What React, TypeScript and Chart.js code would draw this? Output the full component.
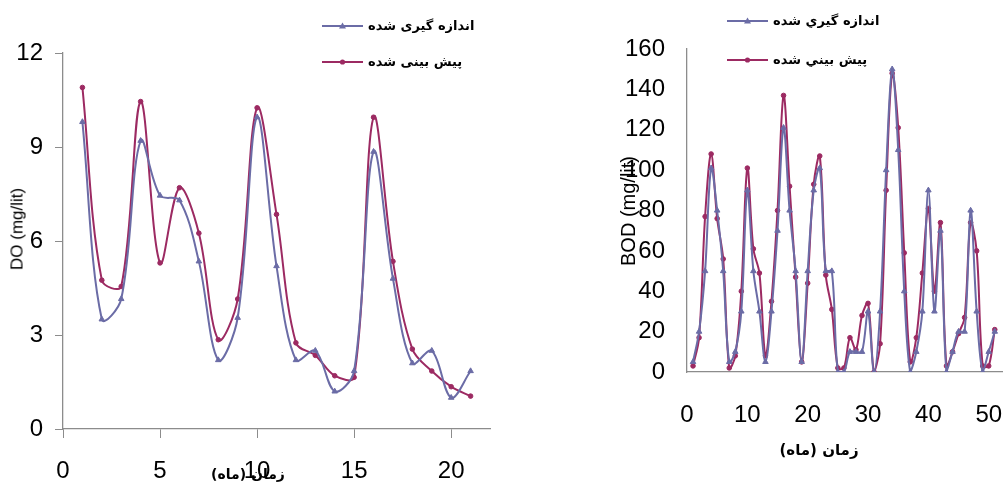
import React, { useEffect, useRef } from "react";
import { Chart, registerables } from "chart.js";

Chart.register(...registerables);

// ---------- DATA ----------
const doMonths = [1, 2, 3, 4, 5, 6, 7, 8, 9, 10, 11, 12, 13, 14, 15, 16, 17, 18, 19, 20, 21];
const doMeasured = [9.8, 3.5, 4.15, 9.2, 7.45, 7.3, 5.35, 2.2, 3.55, 9.95, 5.2, 2.2, 2.5, 1.2, 1.85, 8.85, 4.8, 2.1, 2.5, 1.0, 1.85];
const doPredicted = [10.9, 4.75, 4.55, 10.45, 5.3, 7.7, 6.25, 2.85, 4.15, 10.25, 6.85, 2.75, 2.35, 1.7, 1.65, 9.95, 5.35, 2.55, 1.85, 1.35, 1.05];

const bodMonths = [
  1, 2, 3, 4, 5, 6, 7, 8, 9, 10, 11, 12, 13, 14, 15, 16, 17, 18, 19, 20, 21, 22, 23, 24, 25,
  26, 27, 28, 29, 30, 31, 32, 33, 34, 35, 36, 37, 38, 39, 40, 41, 42, 43, 44, 45, 46, 47, 48, 49, 50, 51,
];
const bodMeasured = [
  5, 20, 50, 101, 80, 50, 5, 10, 30, 90, 50, 30, 5, 30, 70, 121, 80, 50, 5, 50, 90, 101, 50, 50, 0,
  0, 10, 10, 10, 30, 0, 30, 100, 150, 110, 40, 0, 10, 30, 90, 30, 70, 0, 10, 20, 20, 80, 30, 0, 10, 20,
];
const bodPredicted = [
  3, 17, 77, 108, 76, 56, 2, 8, 40, 101, 61, 49, 8, 35, 80, 137, 92, 47, 5, 44, 93, 107, 48, 31, 2,
  2, 17, 11, 28, 34, 0, 14, 90, 148, 121, 59, 5, 17, 49, 81, 40, 74, 3, 10, 19, 27, 74, 60, 3, 3, 21,
];

const doXTicks = [0, 5, 10, 15, 20];
const doYTicks = [0, 3, 6, 9, 12];
const bodXTicks = [0, 10, 20, 30, 40, 50];
const bodYTicks = [0, 20, 40, 60, 80, 100, 120, 140, 160];

const labelsLeft = { measured: "اندازه گیری شده", predicted: "پیش بینی شده", x: "زمان (ماه)", y: "DO (mg/lit)" };
const labelsRight = { measured: "اندازه گيري شده", predicted: "پيش بيني شده", x: "زمان (ماه)", y: "BOD (mg/lit)" };

const BLUE = "#6b6ca6";
const RED = "#9c2a62";
const AXIS = "#8c8c8c";
const NUMFONT = "'Liberation Sans', Arial, sans-serif";
const ARFONT = "'DejaVu Sans', sans-serif";

function toPoints(xs: number[], ys: number[]) {
  return xs.map((x, i) => ({ x, y: ys[i] }));
}

function makeDatasets(xs: number[], m: number[], p: number[], ml: string, pl: string) {
  return [
    {
      label: ml,
      data: toPoints(xs, m),
      borderColor: BLUE,
      backgroundColor: BLUE,
      borderWidth: 2,
      pointStyle: "triangle" as const,
      pointRadius: 3.2,
      pointBorderWidth: 1,
      tension: 0.35,
    },
    {
      label: pl,
      data: toPoints(xs, p),
      borderColor: RED,
      backgroundColor: RED,
      borderWidth: 2,
      pointStyle: "circle" as const,
      pointRadius: 2.3,
      pointBorderWidth: 1,
      tension: 0.35,
    },
  ];
}

function LineChart(props: {
  left: number;
  width: number;
  xs: number[];
  m: number[];
  p: number[];
  ml: string;
  pl: string;
  xMax: number;
  yMax: number;
  xTicks: number[];
  yTicks: number[];
  yAxisWidth: number;
  xAxisHeight: number;
  padTop: number;
  padRight: number;
  showTicks: boolean;
  xTickLen: number;
  yTickLen: number;
  xPad: number;
  yPad: number;
}) {
  const ref = useRef<HTMLCanvasElement | null>(null);
  useEffect(() => {
    if (!ref.current) return;
    const tickColor = props.showTicks ? AXIS : "rgba(0,0,0,0)";
    const chart = new Chart(ref.current, {
      type: "line",
      data: { datasets: makeDatasets(props.xs, props.m, props.p, props.ml, props.pl) as any },
      options: {
        animation: false,
        responsive: false,
        maintainAspectRatio: false,
        layout: { padding: { top: props.padTop, right: props.padRight, left: 0, bottom: 0 } },
        plugins: { legend: { display: false }, tooltip: { enabled: false }, title: { display: false } },
        scales: {
          x: {
            type: "linear",
            min: 0,
            max: props.xMax,
            afterBuildTicks: (s: any) => {
              s.ticks = props.xTicks.map((v) => ({ value: v }));
            },
            afterFit: (s: any) => {
              s.height = props.xAxisHeight;
            },
            ticks: {
              font: { size: 24, family: NUMFONT },
              color: "#000",
              padding: props.xPad,
              maxRotation: 0,
              autoSkip: false,
            },
            grid: {
              drawOnChartArea: false,
              drawTicks: true,
              tickLength: props.xTickLen,
              tickColor: tickColor,
              color: AXIS,
            },
            border: { color: AXIS, width: 1.3 },
          },
          y: {
            type: "linear",
            min: 0,
            max: props.yMax,
            afterBuildTicks: (s: any) => {
              s.ticks = props.yTicks.map((v) => ({ value: v }));
            },
            afterFit: (s: any) => {
              s.width = props.yAxisWidth;
            },
            ticks: {
              font: { size: 24, family: NUMFONT },
              color: "#000",
              padding: props.yPad,
              autoSkip: false,
            },
            grid: {
              drawOnChartArea: false,
              drawTicks: true,
              tickLength: props.yTickLen,
              tickColor: tickColor,
              color: AXIS,
            },
            border: { color: AXIS, width: 1.3 },
          },
        },
      },
    });
    return () => chart.destroy();
  }, []);
  return (
    <canvas
      ref={ref}
      width={props.width}
      height={487}
      style={{ position: "absolute", left: props.left, top: 0, width: props.width, height: 487 }}
    />
  );
}

function LegendItem(props: { x: number; y: number; text: string; color: string; marker: "tri" | "dot"; size: number }) {
  return (
    <div style={{ position: "absolute", left: props.x, top: props.y - 6, height: 12, display: "flex", alignItems: "center" }}>
      <svg width={41} height={12} style={{ display: "block" }}>
        <line x1={0} y1={6} x2={41} y2={6} stroke={props.color} strokeWidth={2} />
        {props.marker === "tri" ? (
          <polygon points="20.5,2.5 24,8.5 17,8.5" fill={props.color} />
        ) : (
          <circle cx={20.5} cy={6} r={2.6} fill={props.color} />
        )}
      </svg>
      <span
        dir="rtl"
        style={{
          marginLeft: 5,
          fontFamily: ARFONT,
          fontWeight: "bold",
          fontSize: props.size,
          color: "#000",
          whiteSpace: "nowrap",
          lineHeight: "12px",
        }}
      >
        {props.text}
      </span>
    </div>
  );
}

function Text(props: { cx: number; cy: number; text: string; size: number; bold?: boolean; rotate?: boolean; family: string; rtl?: boolean }) {
  return (
    <div
      dir={props.rtl ? "rtl" : "ltr"}
      style={{
        position: "absolute",
        left: props.cx,
        top: props.cy,
        transform: `translate(-50%, -50%)${props.rotate ? " rotate(-90deg)" : ""}`,
        fontFamily: props.family,
        fontSize: props.size,
        fontWeight: props.bold ? "bold" : "normal",
        whiteSpace: "nowrap",
        color: "#000",
        lineHeight: 1,
      }}
    >
      {props.text}
    </div>
  );
}

export default function App() {
  return (
    <div
      style={{
        position: "fixed",
        left: 0,
        top: 0,
        width: 1007,
        height: 487,
        background: "#fff",
        overflow: "hidden",
      }}
    >
      <LineChart
        left={0}
        width={500}
        xs={doMonths}
        m={doMeasured}
        p={doPredicted}
        ml={labelsLeft.measured}
        pl={labelsLeft.predicted}
        xMax={22}
        yMax={12}
        xTicks={doXTicks}
        yTicks={doYTicks}
        yAxisWidth={63}
        xAxisHeight={58}
        padTop={53}
        padRight={10}
        showTicks={true}
        xTickLen={9}
        yTickLen={8}
        xPad={19}
        yPad={12}
      />
      <LineChart
        left={560}
        width={447}
        xs={bodMonths}
        m={bodMeasured}
        p={bodPredicted}
        ml={labelsRight.measured}
        pl={labelsRight.predicted}
        xMax={52.2}
        yMax={160}
        xTicks={bodXTicks}
        yTicks={bodYTicks}
        yAxisWidth={127}
        xAxisHeight={115}
        padTop={49}
        padRight={0}
        showTicks={false}
        xTickLen={29}
        yTickLen={22}
        xPad={0}
        yPad={0}
      />
      <Text cx={17} cy={229} text={labelsLeft.y} size={17} rotate family={NUMFONT} />
      <Text cx={248} cy={474} text={labelsLeft.x} size={14} bold family={ARFONT} rtl />
      <Text cx={628} cy={211} text={labelsRight.y} size={20} rotate family={NUMFONT} />
      <Text cx={819} cy={450} text={labelsRight.x} size={15} bold family={ARFONT} rtl />
      <LegendItem x={322} y={26} text={labelsLeft.measured} color={BLUE} marker="tri" size={13} />
      <LegendItem x={322} y={62} text={labelsLeft.predicted} color={RED} marker="dot" size={13} />
      <LegendItem x={727} y={21} text={labelsRight.measured} color={BLUE} marker="tri" size={13} />
      <LegendItem x={727} y={60} text={labelsRight.predicted} color={RED} marker="dot" size={13} />
    </div>
  );
}
